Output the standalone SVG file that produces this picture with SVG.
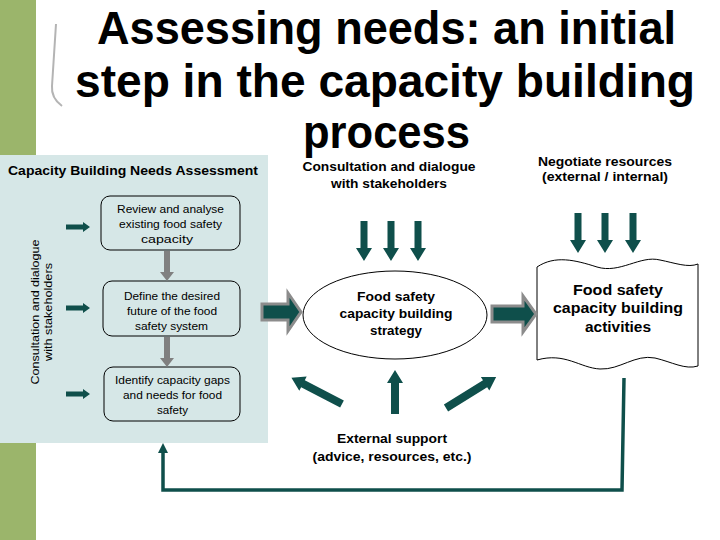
<svg xmlns="http://www.w3.org/2000/svg" width="720" height="540" viewBox="0 0 720 540">
  <style>
    .title { font-family: "Liberation Sans", Arial, sans-serif; font-weight: bold; font-size: 47px; fill: #000; }
    .sm { font-family: "Liberation Sans", Arial, sans-serif; font-size: 11.5px; fill: #000; text-anchor: middle; }
    .bd { font-family: "Liberation Sans", Arial, sans-serif; font-weight: bold; fill: #000; text-anchor: middle; }
    .box { fill: none; stroke: #000; stroke-width: 1; }
    .teal { fill: #0f4f4b; }
    .grayarr { fill: #808080; }
    .block { fill: #0f4f4b; stroke: #8c8c8c; stroke-width: 3; stroke-linejoin: miter; }
  </style>

  <rect x="0" y="0" width="720" height="540" fill="#ffffff"/>

  <!-- side bars and panel -->
  <rect x="0" y="0" width="36" height="156" fill="#9bb56b"/>
  <rect x="0" y="443" width="36" height="97" fill="#9bb56b"/>
  <rect x="0" y="155" width="268" height="288" fill="#d6e7e7"/>

  <!-- bracket decoration -->
  <path d="M56,24 L52,86 Q51,98 62,106" fill="none" stroke="#b4b4b4" stroke-width="2"/>

  <!-- title -->
  <g id="title">
    <text class="title" x="97" y="44" textLength="579" lengthAdjust="spacingAndGlyphs">Assessing needs: an initial</text>
    <text class="title" x="75" y="97" textLength="620" lengthAdjust="spacingAndGlyphs">step in the capacity building</text>
    <text class="title" x="303" y="148" textLength="167" lengthAdjust="spacingAndGlyphs">process</text>
  </g>

  <g id="panel-header">
    <text class="bd" x="133" y="175" font-size="13" textLength="250" lengthAdjust="spacingAndGlyphs">Capacity Building Needs Assessment</text>
  </g>

  <g id="side-consultation">
    <text class="sm" transform="translate(39,312) rotate(-90)" font-size="11" textLength="145" lengthAdjust="spacingAndGlyphs">Consultation and dialogue</text>
    <text class="sm" transform="translate(52,312) rotate(-90)" font-size="11" textLength="98" lengthAdjust="spacingAndGlyphs">with stakeholders</text>
  </g>

  <g id="review">
    <rect class="box" x="101" y="196" width="139" height="54" rx="9"/>
    <text class="sm" x="170.5" y="213" textLength="107" lengthAdjust="spacingAndGlyphs">Review and analyse</text>
    <text class="sm" x="170.5" y="228" textLength="103" lengthAdjust="spacingAndGlyphs">existing food safety</text>
    <text class="sm" x="167" y="243" textLength="52" lengthAdjust="spacingAndGlyphs">capacity</text>
  </g>

  <g id="define">
    <rect class="box" x="103" y="281" width="137" height="55" rx="9"/>
    <text class="sm" x="172" y="300" textLength="96" lengthAdjust="spacingAndGlyphs">Define the desired</text>
    <text class="sm" x="172" y="315" textLength="90" lengthAdjust="spacingAndGlyphs">future of the food</text>
    <text class="sm" x="171.5" y="330" textLength="73" lengthAdjust="spacingAndGlyphs">safety system</text>
  </g>

  <g id="identify">
    <rect class="box" x="104" y="367" width="136" height="54" rx="9"/>
    <text class="sm" x="172.5" y="384" textLength="115" lengthAdjust="spacingAndGlyphs">Identify capacity gaps</text>
    <text class="sm" x="172.5" y="399" textLength="99" lengthAdjust="spacingAndGlyphs">and needs for food</text>
    <text class="sm" x="172.5" y="414" textLength="31" lengthAdjust="spacingAndGlyphs">safety</text>
  </g>

  <g id="strategy">
    <ellipse cx="395" cy="315" rx="92" ry="44" fill="#ffffff" stroke="#000" stroke-width="1"/>
    <text class="bd" x="396" y="301" font-size="13" textLength="78" lengthAdjust="spacingAndGlyphs">Food safety</text>
    <text class="bd" x="396" y="318" font-size="13" textLength="113" lengthAdjust="spacingAndGlyphs">capacity building</text>
    <text class="bd" x="396" y="335" font-size="13" textLength="52" lengthAdjust="spacingAndGlyphs">strategy</text>
  </g>

  <g id="activities">
    <path d="M537,267 C555,255 575,260 597,267 C620,274 640,255 660,260 C675,263 688,268 698,264 L698,366 C685,370 672,362 655,358 C635,354 620,370 600,369 C580,368 565,352 537,360 Z" fill="#ffffff" stroke="#000" stroke-width="1"/>
    <text class="bd" x="618" y="295" font-size="14.5" textLength="90" lengthAdjust="spacingAndGlyphs">Food safety</text>
    <text class="bd" x="618" y="313" font-size="14.5" textLength="130" lengthAdjust="spacingAndGlyphs">capacity building</text>
    <text class="bd" x="618" y="332" font-size="14.5" textLength="66" lengthAdjust="spacingAndGlyphs">activities</text>
  </g>

  <g id="consultation-top">
    <text class="bd" x="389" y="171" font-size="13" textLength="173" lengthAdjust="spacingAndGlyphs">Consultation and dialogue</text>
    <text class="bd" x="389" y="188" font-size="13" textLength="116" lengthAdjust="spacingAndGlyphs">with stakeholders</text>
  </g>

  <g id="negotiate">
    <text class="bd" x="605" y="166" font-size="12.5" textLength="134" lengthAdjust="spacingAndGlyphs">Negotiate resources</text>
    <text class="bd" x="605" y="181" font-size="12.5" textLength="126" lengthAdjust="spacingAndGlyphs">(external / internal)</text>
  </g>

  <g id="external">
    <text class="bd" x="392" y="443" font-size="13" textLength="110" lengthAdjust="spacingAndGlyphs">External support</text>
    <text class="bd" x="392" y="461" font-size="13" textLength="159" lengthAdjust="spacingAndGlyphs">(advice, resources, etc.)</text>
  </g>

  <g id="connectors">
    <!-- small left arrows -->
    <path class="teal" d="M66,224.5 L83,224.5 L83,222 L90,227 L83,232 L83,229.5 L66,229.5 Z"/>
    <path class="teal" d="M66,305.5 L83,305.5 L83,303 L90,308 L83,313 L83,310.5 L66,310.5 Z"/>
    <path class="teal" d="M66,391.5 L83,391.5 L83,389 L90,394 L83,399 L83,396.5 L66,396.5 Z"/>

    <!-- gray arrows between boxes -->
    <path class="grayarr" d="M164,251 L170,251 L170,272 L174,272 L167,281 L160,272 L164,272 Z"/>
    <path class="grayarr" d="M164,337 L170,337 L170,358 L174,358 L167,367 L160,358 L164,358 Z"/>

    <!-- block arrows -->
    <path class="block" d="M262,304 L288,304 L288,293 L301,312 L288,331 L288,320 L262,320 Z"/>
    <path class="block" d="M492,306 L523,306 L523,296 L536,314 L523,332 L523,322 L492,322 Z"/>

    <!-- top middle down arrows -->
    <path class="teal" d="M360.5,221 L367.5,221 L367.5,248 L372,248 L364,261 L356,248 L360.5,248 Z"/>
    <path class="teal" d="M387.5,221 L394.5,221 L394.5,248 L399,248 L391,261 L383,248 L387.5,248 Z"/>
    <path class="teal" d="M414.5,221 L421.5,221 L421.5,248 L426,248 L418,261 L410,248 L414.5,248 Z"/>

    <!-- top right down arrows -->
    <path class="teal" d="M574.5,213 L581.5,213 L581.5,240 L586,240 L578,253 L570,240 L574.5,240 Z"/>
    <path class="teal" d="M601.5,213 L608.5,213 L608.5,240 L613,240 L605,253 L597,240 L601.5,240 Z"/>
    <path class="teal" d="M629.5,213 L636.5,213 L636.5,240 L641,240 L633,253 L625,240 L629.5,240 Z"/>

    <!-- external support arrows -->
    <path class="teal" d="M391,414 L391,383 L387,383 L395,370 L403,383 L399,383 L399,414 Z"/>
    <path class="teal" transform="translate(342,404) rotate(207.5)" d="M0,-4 L44,-4 L44,-8 L57,0 L44,8 L44,4 L0,4 Z"/>
    <path class="teal" transform="translate(446,408) rotate(-31.8)" d="M0,-4 L46,-4 L46,-8 L59,0 L46,8 L46,4 L0,4 Z"/>

    <!-- feedback loop -->
    <path d="M624,378 L622,490 L163,490 L163,452" fill="none" stroke="#0f4f4b" stroke-width="3.5"/>
    <path class="teal" d="M163,443 L168,453 L158,453 Z"/>
  </g>
</svg>
